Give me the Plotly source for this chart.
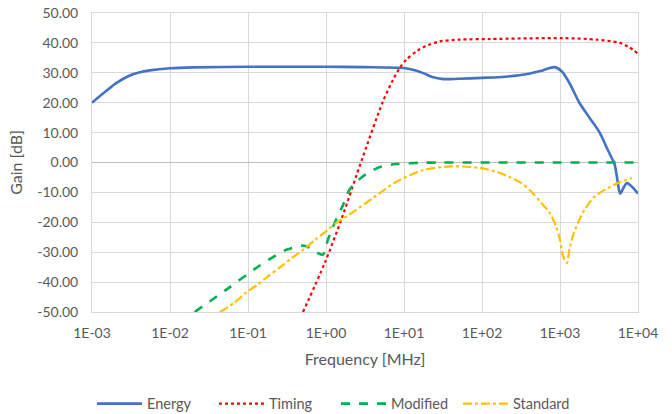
import plotly.graph_objects as go

# ---------------- data (frequency in MHz, gain in dB) ----------------
energy_f = [0.001, 0.0015, 0.002, 0.003, 0.004, 0.0055, 0.01, 0.02, 0.1, 1.0, 3.0, 10.0,
            13.0, 18.0, 23.0, 32.0, 50.0, 100.0, 200.0, 400.0, 600.0, 850.0, 1050.0,
            1320.0, 1780.0, 2400.0, 3240.0, 3900.0, 4600.0, 5000.0, 5500.0, 5900.0,
            7200.0, 10000.0]
energy_g = [20.0, 23.8, 26.4, 29.0, 30.1, 30.8, 31.5, 31.8, 32.0, 32.0, 31.9, 31.6,
            31.0, 29.8, 28.6, 27.9, 28.0, 28.3, 28.7, 29.7, 30.8, 31.9, 30.5,
            26.6, 19.9, 14.9, 9.9, 5.4, 1.5, -0.5, -6.5, -10.4,
            -6.9, -10.4]

timing_f = [0.507, 0.964, 1.585, 2.98, 5.37, 7.24, 8.81, 10.7, 14.5, 19.5, 28.8,
            51.3, 126.0, 1100.0, 2950.0, 5890.0, 7760.0, 10000.0]
timing_g = [-50.0, -33.6, -18.8, 2.0, 20.4, 27.7, 31.6, 34.4, 37.2, 39.1, 40.5,
            41.1, 41.3, 41.6, 41.1, 40.0, 38.5, 36.4]

modified_f = [0.0207, 0.0528, 0.122, 0.19, 0.31, 0.507, 0.589, 0.789, 0.912, 1.06, 1.29,
              1.66, 2.0, 2.98, 4.9, 7.94, 15.8, 31.6, 100.0, 1000.0, 10000.0]
modified_g = [-50.0, -42.5, -35.6, -32.3, -29.2, -27.8, -28.3, -30.3, -30.8, -25.8, -20.2,
              -14.1, -9.1, -4.6, -1.5, -0.5, -0.1, 0.0, 0.0, 0.0, 0.0]

standard_f = [0.0437, 0.0676, 0.0955, 0.132, 0.180, 0.257, 0.363, 0.507, 0.716, 1.0,
              1.35, 1.97, 3.98, 7.94, 17.4, 39.8, 93.3, 158.0, 224.0, 320.0, 427.0,
              575.0, 741.0, 891.0, 1000.0, 1096.0, 1230.0, 1318.0, 1479.0, 1778.0,
              2089.0, 2754.0, 3890.0, 5495.0, 8318.0]
standard_g = [-50.0, -46.8, -43.4, -40.9, -38.1, -35.1, -32.0, -29.2, -26.0, -23.0,
              -20.2, -17.5, -11.9, -6.5, -2.6, -1.3, -1.8, -3.2, -4.8, -6.9, -9.7,
              -13.5, -16.9, -21.4, -25.8, -31.4, -33.6, -29.2, -24.1, -19.1,
              -15.6, -11.5, -8.9, -6.9, -5.2]

x_tick_vals = [0.001, 0.01, 0.1, 1, 10, 100, 1000, 10000]
x_tick_text = ["1E-03", "1E-02", "1E-01", "1E+00", "1E+01", "1E+02", "1E+03", "1E+04"]
y_tick_vals = [50, 40, 30, 20, 10, 0, -10, -20, -30, -40, -50]
y_tick_text = ["50.00", "40.00", "30.00", "20.00", "10.00", "0.00", "-10.00",
               "-20.00", "-30.00", "-40.00", "-50.00"]

FONT = "Lato"
GREY = "#595959"

fig = go.Figure()
fig.add_trace(go.Scatter(x=energy_f, y=energy_g, name="Energy", mode="lines",
                         line=dict(color="#4472C4", width=2.6, shape="spline", smoothing=0.8)))
fig.add_trace(go.Scatter(x=timing_f, y=timing_g, name="Timing", mode="lines",
                         line=dict(color="#FF0000", width=2.2, dash="dot", shape="spline", smoothing=0.8)))
fig.add_trace(go.Scatter(x=modified_f, y=modified_g, name="Modified", mode="lines",
                         line=dict(color="#00B050", width=2.6, dash="dash", shape="spline", smoothing=0.8)))
fig.add_trace(go.Scatter(x=standard_f, y=standard_g, name="Standard", mode="lines",
                         line=dict(color="#FFC000", width=2.2, dash="dashdot", shape="spline", smoothing=0.8)))

# axis crossing line at 1 MHz (log axis shape coords are log10)
fig.add_shape(type="line", xref="x", yref="paper", x0=0, x1=0, y0=0, y1=1,
              line=dict(color="#BFBFBF", width=1.3), layer="below")

fig.update_layout(
    width=672, height=414,
    margin=dict(l=92, r=34, t=13, b=102, autoexpand=False),
    paper_bgcolor="white", plot_bgcolor="white",
    font=dict(family=FONT, size=14, color=GREY),
    showlegend=True,
    legend=dict(orientation="h", xref="container", yref="container",
                x=0.5, xanchor="center", y=0.025, yanchor="middle",
                font=dict(family=FONT, size=14.5, color=GREY),
                entrywidth=62, entrywidthmode="pixels",
                itemwidth=45, tracegroupgap=0),
)
fig.update_xaxes(type="log", range=[-3, 4], tickvals=x_tick_vals, ticktext=x_tick_text,
                 automargin=False,
                 showgrid=True, gridcolor="#D9D9D9", gridwidth=1,
                 showline=True, linecolor="#D9D9D9", mirror=True,
                 ticks="outside", ticklen=8, tickcolor="rgba(0,0,0,0)",
                 title=dict(text="Frequency [MHz]", font=dict(family=FONT, size=16, color=GREY), standoff=14),
                 tickfont=dict(family=FONT, size=14, color=GREY))
fig.update_yaxes(range=[-50, 50], tickvals=y_tick_vals, ticktext=y_tick_text,
                 automargin=False,
                 showgrid=True, gridcolor="#D9D9D9", gridwidth=1,
                 zeroline=True, zerolinecolor="#BFBFBF", zerolinewidth=1.3,
                 showline=True, linecolor="#D9D9D9", mirror=True,
                 ticks="outside", ticklen=10, tickcolor="rgba(0,0,0,0)",
                 title=dict(text="Gain [dB]", font=dict(family=FONT, size=16, color=GREY), standoff=10),
                 tickfont=dict(family=FONT, size=14, color=GREY))

fig.write_html("out.html", config={"displayModeBar": False},
               post_script="document.body.style.margin='0px';")
